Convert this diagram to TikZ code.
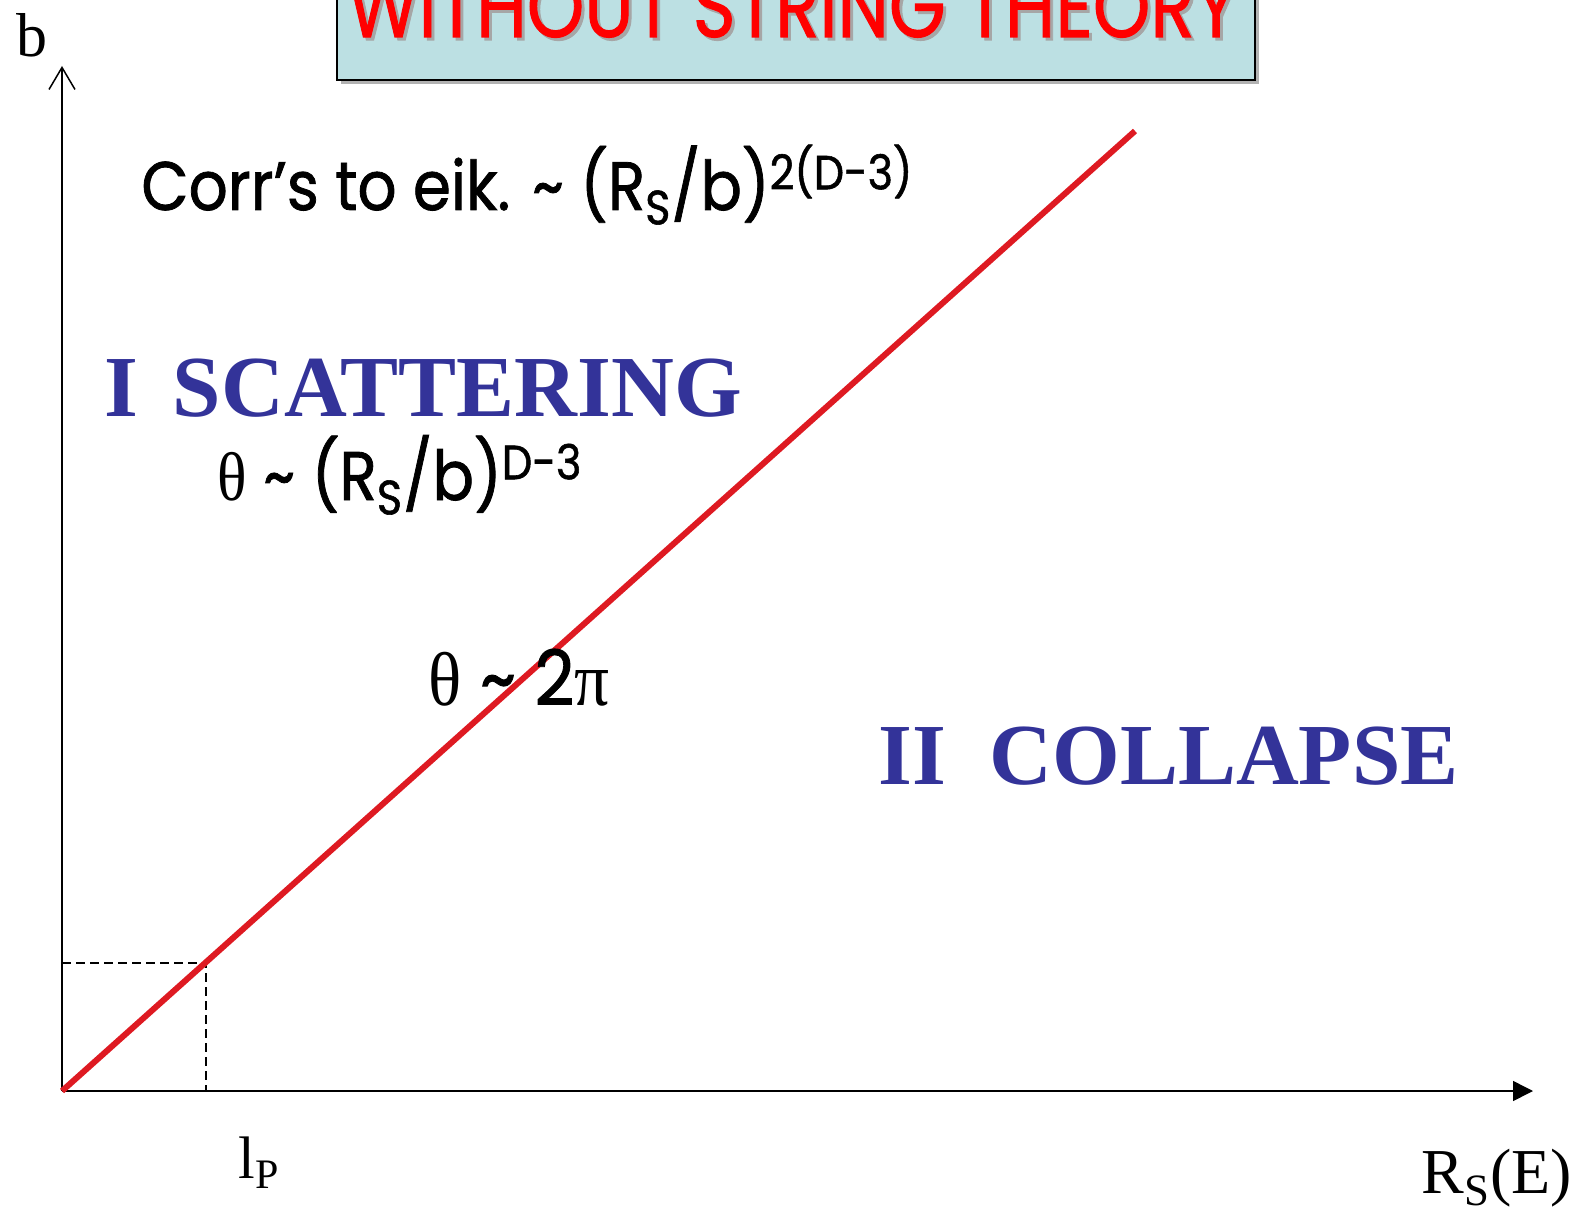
\documentclass[tikz,border=0pt]{standalone}
\usepackage{fontspec}
\setmainfont{Liberation Serif}
\newfontfamily\comic[FakeBold=1.2]{Poppins}
\newfontfamily\tms{Liberation Serif}
\usetikzlibrary{arrows.meta}
\definecolor{titlebg}{RGB}{188,224,227}
\definecolor{regionblue}{RGB}{51,51,153}
\definecolor{linered}{RGB}{222,26,34}
\tikzset{
  axis/.style={line width=0.75pt, black},
  guide/.style={line width=0.75pt, black, dash pattern=on 4.5pt off 2.5pt},
  boundary/.style={line width=3pt, linered},
  serifbig/.style={font=\fontsize{30}{33}\selectfont, inner sep=0pt, anchor=base west},
  region/.style={font=\fontsize{43.5}{48}\selectfont\bfseries, text=regionblue, inner sep=0pt, anchor=base west},
  comictext/.style={inner sep=0pt, anchor=base west},
}
\begin{document}
\begin{tikzpicture}[x=0.5pt, y=-0.5pt]
\useasboundingbox (0,0) rectangle (1579,1208);
% title box
\fill[gray!60] (341,-10) rectangle (1259,84);
\node[draw=black, line width=1pt, fill=titlebg, minimum width=459pt, minimum height=45pt, inner sep=0pt] (titlebox) at (796,35) {};
\node[comictext, text=gray!70] at (350,40) {\scalebox{1}[1.2]{\resizebox{445pt}{!}{\comic\fontsize{30}{34}\selectfont WITHOUT STRING THEORY}}};
\node[comictext, text=red] (title) at (347,37) {\scalebox{1}[1.2]{\resizebox{445pt}{!}{\comic\fontsize{30}{34}\selectfont WITHOUT STRING THEORY}}};
% axes
\coordinate (O) at (62,1091);
\coordinate (ytip) at (62,66);
\coordinate (xtip) at (1533,1091);
\draw[axis, -{Straight Barb[length=11pt, width=13pt, line width=0.75pt]}] (O) -- (ytip);
\draw[axis, -{Triangle[length=10pt, width=10pt]}] (O) -- (xtip);
\node[serifbig, font=\fontsize{31}{34}\selectfont] (blabel) at (16,57) {b};
\node[serifbig, font=\fontsize{32}{35}\selectfont] (xlabel) at (1421,1193) {R\textsubscript{S}(E)};
\node[serifbig] (lp) at (238,1178) {l\textsubscript{P}};
% planck guide
\coordinate (P) at (206,963);
\coordinate (Py) at (62,963);
\coordinate (Px) at (206,1091);
\draw[guide] (Py) -- (P) -- (Px);
% boundary line
\coordinate (E) at (1135,131);
\draw[boundary] (O) -- (E);
% labels
\node[comictext] (corr) at (141,210) {\scalebox{1}[1.12]{\resizebox{386pt}{!}{\comic\fontsize{30}{34}\selectfont Corr’s to eik. \textasciitilde{} (R\textsubscript{S}/b)\textsuperscript{2(D-3)}}}};
\node[region] (scat) at (104,416) {I\hspace{0.15em} SCATTERING};
\node[comictext] (theta1) at (217,500) {\scalebox{1}[1.12]{\resizebox{182.5pt}{!}{\comic\fontsize{30}{34}\selectfont {\tms θ} \textasciitilde{} (R\textsubscript{S}/b)\textsuperscript{D-3}}}};
\node[comictext] (theta2) at (428,705) {\scalebox{1}[1.1]{\resizebox{90.5pt}{!}{\comic\fontsize{30}{34}\selectfont {\tms θ} \textasciitilde{} 2{\tms π}}}};
\node[region] (coll) at (878,784) {II\hspace{0.25em} COLLAPSE};
\end{tikzpicture}
\end{document}
